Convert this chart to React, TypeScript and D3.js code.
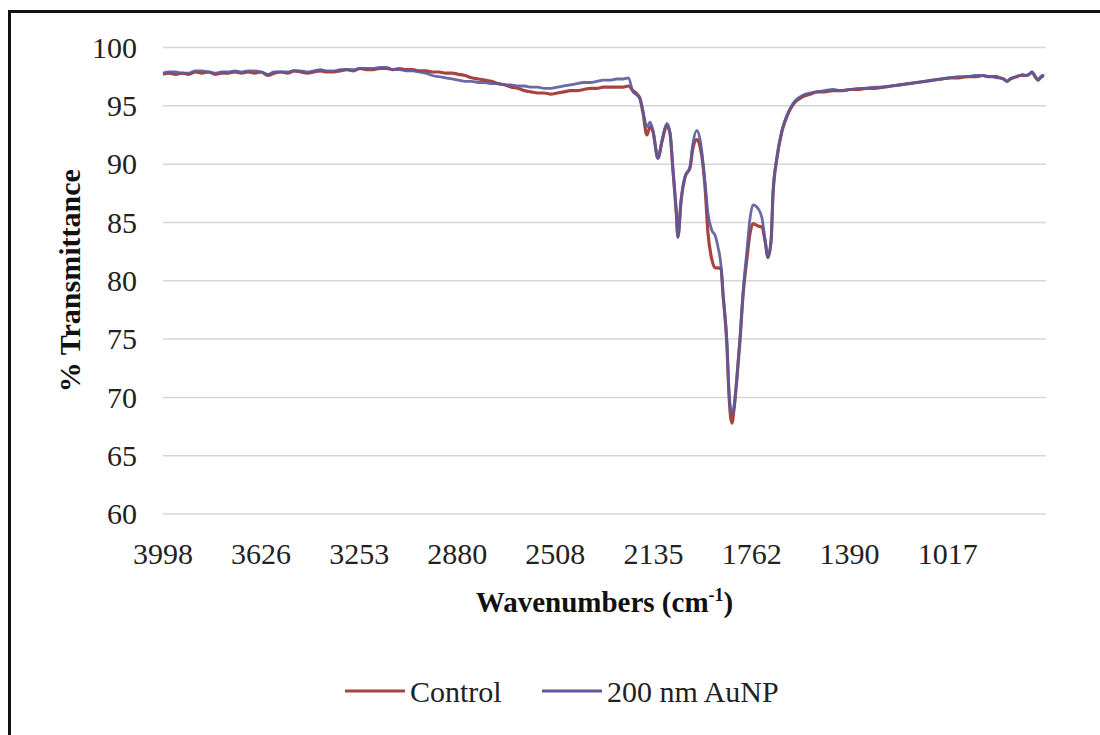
import { useEffect, useRef } from "react";
import * as d3 from "d3";

// wavenumber grid (cm-1), shared by both spectra
const wavenumbers = [
  3998, 3975, 3950, 3925, 3900, 3875, 3850, 3825, 3800, 3775, 3750, 3725, 3700, 3675, 3650,
  3625, 3600, 3575, 3550, 3525, 3500, 3475, 3450, 3425, 3400, 3375, 3350, 3325, 3300, 3275,
  3250, 3225, 3200, 3175, 3150, 3125, 3100, 3075, 3050, 3025, 3000, 2975, 2950, 2925, 2900,
  2875, 2850, 2825, 2800, 2775, 2750, 2725, 2700, 2675, 2650, 2625, 2600, 2575, 2550, 2525,
  2500, 2475, 2450, 2425, 2400, 2375, 2350, 2325, 2300, 2275, 2250, 2230, 2213, 2197, 2186,
  2175, 2160, 2148, 2137, 2118, 2102, 2084, 2072, 2061, 2049, 2042, 2030, 2015, 1996, 1985,
  1970, 1958, 1939, 1928, 1913, 1901, 1890, 1878, 1871, 1856, 1848, 1837, 1829, 1818, 1806,
  1795, 1780, 1768, 1757, 1738, 1723, 1711, 1700, 1688, 1681, 1666, 1647, 1628, 1605, 1567,
  1540, 1514, 1485, 1453, 1420, 1388, 1358, 1328, 1295, 1263, 1230, 1198, 1166, 1134, 1103,
  1073, 1040, 1009, 976, 944, 913, 883, 865, 845, 832, 819, 805, 792, 780, 769, 756, 743,
  732, 720, 708, 697, 686, 674, 666, 659, 651, 644,
];

const control = [
  97.7, 97.8, 97.7, 97.8, 97.7, 97.9, 97.8, 97.9, 97.7, 97.8, 97.8, 97.9, 97.8, 97.9, 97.8,
  97.9, 97.6, 97.8, 97.9, 97.8, 98.0, 97.9, 97.8, 97.9, 98.0, 97.9, 97.9, 98.0, 98.1, 98.0,
  98.2, 98.1, 98.1, 98.2, 98.2, 98.1, 98.2, 98.1, 98.1, 98.0, 98.0, 97.9, 97.9, 97.8, 97.8,
  97.7, 97.6, 97.4, 97.3, 97.2, 97.1, 96.9, 96.8, 96.6, 96.5, 96.3, 96.2, 96.1, 96.1, 96.0,
  96.1, 96.2, 96.3, 96.3, 96.4, 96.5, 96.5, 96.6, 96.6, 96.6, 96.6, 96.7, 96.3, 96.0, 95.6,
  94.4, 92.5, 93.2, 92.8, 90.5, 92.0, 93.3, 92.6, 89.5, 86.1, 83.8, 86.9, 88.9, 89.7, 91.4,
  92.1, 91.5, 88.0, 84.1, 81.8, 81.1, 81.1, 81.0, 78.9, 74.5, 70.2, 67.8, 69.0, 71.6, 75.0,
  78.7, 81.9, 84.1, 84.9, 84.7, 84.6, 83.4, 82.0, 83.5, 87.4, 90.5, 92.8, 94.1, 95.1, 95.8,
  96.0, 96.2, 96.2, 96.3, 96.3, 96.4, 96.4, 96.5, 96.5, 96.6, 96.7, 96.8, 96.9, 97.0, 97.1,
  97.2, 97.3, 97.4, 97.4, 97.5, 97.5, 97.6, 97.5, 97.5, 97.5, 97.4, 97.3, 97.1, 97.3, 97.4,
  97.5, 97.6, 97.6, 97.6, 97.7, 97.9, 97.5, 97.2, 97.4, 97.5, 97.6,
];

const auNP = [
  97.8, 97.9, 97.9, 97.8, 97.8, 98.0, 98.0, 97.9, 97.8, 97.9, 97.9, 98.0, 97.9, 98.0, 98.0,
  97.9, 97.7, 97.9, 97.9, 97.9, 98.0, 98.0, 97.9, 98.0, 98.1, 98.0, 98.0, 98.1, 98.1, 98.1,
  98.2, 98.2, 98.2, 98.3, 98.3, 98.1, 98.1, 98.0, 98.0, 97.9, 97.8, 97.6, 97.5, 97.4, 97.3,
  97.2, 97.1, 97.1, 97.0, 97.0, 96.9, 96.9, 96.8, 96.8, 96.7, 96.7, 96.6, 96.6, 96.5, 96.5,
  96.6, 96.7, 96.8, 96.9, 97.0, 97.0, 97.1, 97.2, 97.2, 97.3, 97.3, 97.4, 96.2, 95.9, 95.6,
  94.6, 93.2, 93.6, 92.9, 90.5, 92.1, 93.5, 92.7, 89.5, 86.1, 83.7, 86.9, 88.9, 89.8, 91.8,
  92.9, 92.1, 88.4, 85.8, 84.3, 83.9, 82.9, 81.2, 78.9, 74.7, 70.4, 68.6, 69.2, 71.8, 75.2,
  78.9, 82.6, 85.4, 86.5, 86.2, 85.4, 83.5, 82.0, 83.5, 87.5, 90.6, 92.9, 94.2, 95.2, 95.9,
  96.1, 96.2, 96.3, 96.4, 96.3, 96.4, 96.5, 96.5, 96.6, 96.6, 96.7, 96.8, 96.9, 97.0, 97.1,
  97.2, 97.3, 97.4, 97.5, 97.5, 97.6, 97.6, 97.5, 97.5, 97.4, 97.4, 97.3, 97.1, 97.3, 97.4,
  97.5, 97.6, 97.7, 97.6, 97.7, 97.9, 97.6, 97.2, 97.4, 97.6, 97.6,
];

const xTickLabels = [3998, 3626, 3253, 2880, 2508, 2135, 1762, 1390, 1017];
const yTicks = [60, 65, 70, 75, 80, 85, 90, 95, 100];

const series = [
  { name: "Control", values: control, color: "#a8443f" },
  { name: "200 nm AuNP", values: auNP, color: "#5b5a9c" },
];

const W = 1100;
const H = 735;
const font = '"Liberation Serif", "Times New Roman", Times, serif';

function App() {
  const svgRef = useRef(null);

  useEffect(() => {
    const svgEl = svgRef.current;
    if (!svgEl) return;
    const svg = d3.select(svgEl);
    svg.selectAll("*").remove();

    const left = 163;
    const right = 1046;
    const top = 47.5;
    const bottom = 514;

    const x = d3.scaleLinear().domain([3998, 644]).range([left, right]);
    const y = d3.scaleLinear().domain([60, 100]).range([bottom, top]);

    svg.append("rect").attr("width", W).attr("height", H).attr("fill", "#fff");

    // outer frame (runs off the right and bottom of the picture)
    svg
      .append("path")
      .attr("d", `M9.5,${H}V11.5H${W}`)
      .attr("fill", "none")
      .attr("stroke", "#111")
      .attr("stroke-width", 3);

    // gridlines
    svg
      .append("g")
      .selectAll("line")
      .data(yTicks)
      .enter()
      .append("line")
      .attr("x1", left)
      .attr("x2", right)
      .attr("y1", (d) => y(d))
      .attr("y2", (d) => y(d))
      .attr("stroke", "#d6d6d6")
      .attr("stroke-width", 1.5);

    // y tick labels
    svg
      .append("g")
      .selectAll("text")
      .data(yTicks)
      .enter()
      .append("text")
      .attr("x", 137)
      .attr("y", (d) => y(d))
      .attr("dy", "0.34em")
      .attr("text-anchor", "end")
      .style("font-family", font)
      .style("font-size", "30px")
      .attr("fill", "#222")
      .text((d) => d);

    // x tick labels
    svg
      .append("g")
      .selectAll("text")
      .data(xTickLabels)
      .enter()
      .append("text")
      .attr("x", (d) => x(d))
      .attr("y", 564)
      .attr("text-anchor", "middle")
      .style("font-family", font)
      .style("font-size", "30px")
      .attr("fill", "#222")
      .text((d) => d);

    // axis titles
    const xTitle = svg
      .append("text")
      .attr("x", (left + right) / 2)
      .attr("y", 612)
      .attr("text-anchor", "middle")
      .style("font-family", font)
      .style("font-size", "29px")
      .style("font-weight", "bold")
      .attr("fill", "#111");
    xTitle.append("tspan").text("Wavenumbers (cm");
    xTitle.append("tspan").style("font-size", "18px").attr("dy", -11).text("-1");
    xTitle.append("tspan").attr("dy", 11).text(")");

    svg
      .append("text")
      .attr("transform", `translate(80,${(top + bottom) / 2}) rotate(-90)`)
      .attr("text-anchor", "middle")
      .style("font-family", font)
      .style("font-size", "30px")
      .style("font-weight", "bold")
      .attr("fill", "#111")
      .text("% Transmittance");

    // spectra
    const line = d3
      .line()
      .x((d) => x(d[0]))
      .y((d) => y(d[1]))
      .curve(d3.curveMonotoneX);

    series.forEach((s, i) => {
      const pts = wavenumbers.map((w, j) => [w, s.values[j]]);
      svg
        .append("path")
        .datum(pts)
        .attr("fill", "none")
        .attr("stroke", s.color)
        .attr("stroke-width", i === 0 ? 3.2 : 2.8)
        .attr("stroke-opacity", i === 0 ? 1 : 0.9)
        .attr("stroke-linejoin", "round")
        .attr("d", line);
    });

    // legend
    const legend = [
      { x: 345, textX: 410 },
      { x: 542, textX: 607 },
    ];
    series.forEach((s, i) => {
      const g = svg.append("g");
      g.append("line")
        .attr("x1", legend[i].x)
        .attr("x2", legend[i].x + 60)
        .attr("y1", 691)
        .attr("y2", 691)
        .attr("stroke", s.color)
        .attr("stroke-width", 3);
      g.append("text")
        .attr("x", legend[i].textX)
        .attr("y", 702)
        .style("font-family", font)
        .style("font-size", "30px")
        .attr("fill", "#222")
        .text(s.name);
    });
  }, []);

  return (
    <svg
      ref={svgRef}
      width={W}
      height={H}
      style={{ position: "absolute", left: 0, top: 0 }}
      role="img"
      aria-label="FTIR transmittance spectra"
    />
  );
}

export default App;
